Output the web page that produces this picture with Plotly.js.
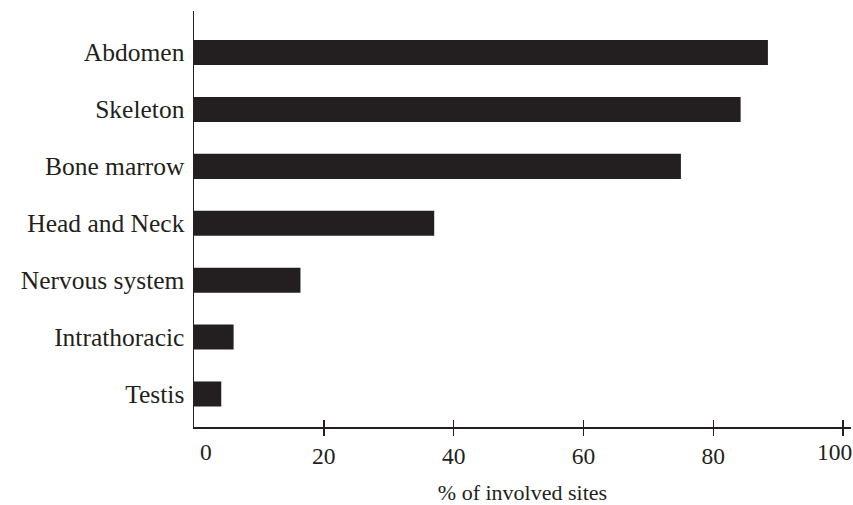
<!DOCTYPE html>
<html>
<head>
<meta charset="utf-8">
<script src="https://cdn.plot.ly/plotly-3.0.1.min.js"></script>
<style>html,body{margin:0;padding:0;background:#fff;}#chart{width:853px;height:505px;}</style>
</head>
<body>
<div id="chart"></div>
<script>
const categories = ["Testis", "Intrathoracic", "Nervous system", "Head and Neck", "Bone marrow", "Skeleton", "Abdomen"];
const values = [4.2, 6.1, 16.4, 37.0, 75.0, 84.2, 88.4];
const tickValues = [20, 40, 60, 80, 100];
const tickLabels = ["20", "40", "60", "80", ""];
const zeroLabel = "0";
const endLabel = "100";
const xTitle = "% of involved sites";

const ink = "#231f20";
const fontFam = "Liberation Serif, Times New Roman, serif";

const trace = {
  type: "bar",
  orientation: "h",
  x: values,
  y: categories,
  width: 0.44,
  marker: {color: ink, line: {width: 0}},
  hoverinfo: "x+y"
};

const xRange = [0, 101.2];
const tickFont = {family: fontFam, size: 23.5, color: ink};

const layout = {
  width: 853, height: 505,
  margin: {l: 194, r: 2, t: 11, b: 78},
  paper_bgcolor: "#fff", plot_bgcolor: "#fff",
  showlegend: false,
  font: {family: fontFam, color: ink, size: 24},
  bargap: 0.56,
  xaxis: {
    range: xRange,
    tickvals: tickValues,
    ticktext: tickLabels,
    ticks: "outside", ticklen: 7, tickwidth: 1.5, tickcolor: ink,
    showline: true, linecolor: ink, linewidth: 1.5,
    showgrid: false, zeroline: false,
    tickfont: tickFont,
    title: {text: xTitle, font: {family: fontFam, size: 22, color: ink}, standoff: 20},
    fixedrange: true
  },
  xaxis2: {
    range: xRange,
    overlaying: "x", anchor: "y", side: "bottom",
    tickvals: tickValues,
    ticks: "inside", ticklen: 7, tickwidth: 1.5, tickcolor: ink,
    showticklabels: false, showline: false, showgrid: false, zeroline: false
  },
  yaxis: {
    type: "category",
    categoryarray: categories,
    range: [-0.58, 6.73],
    ticks: "", ticklabelstandoff: 3,
    showline: true, linecolor: ink, linewidth: 1.5,
    showgrid: false, zeroline: false,
    tickfont: {family: fontFam, size: 25.5, color: ink},
    fixedrange: true
  },
  annotations: [
    {x: 1.8, xref: "x", y: 0, yref: "paper", yanchor: "top", yshift: -10,
     text: zeroLabel, showarrow: false, font: tickFont},
    {x: 98.6, xref: "x", y: 0, yref: "paper", yanchor: "top", yshift: -10,
     text: endLabel, showarrow: false, font: tickFont}
  ]
};

const overlay = {type: "scatter", x: [], y: [], xaxis: "x2", yaxis: "y", hoverinfo: "skip"};

Plotly.newPlot("chart", [trace, overlay], layout, {displayModeBar: false, staticPlot: true});
</script>
</body>
</html>
